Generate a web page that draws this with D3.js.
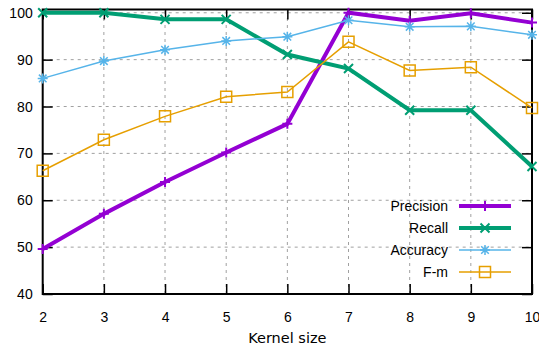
<!DOCTYPE html>
<html>
<head>
<meta charset="utf-8">
<script src="https://cdn.jsdelivr.net/npm/d3@7/dist/d3.min.js"></script>
<style>
  html, body { margin: 0; padding: 0; background: #fff; }
  svg { display: block; font-family: 'Liberation Sans', Arial, sans-serif; }
</style>
</head>
<body>
<svg id="chart"></svg>
<script>
const kernelSizes = [2, 3, 4, 5, 6, 7, 8, 9, 10];
const precision = [49.6, 57.1, 63.9, 70.2, 76.3, 100, 98.3, 99.9, 97.9];
const recall = [100, 100, 98.6, 98.6, 91.1, 88.1, 79.2, 79.2, 67.2];
const accuracy = [86.0, 89.7, 92.1, 94.0, 94.9, 98.4, 97.0, 97.1, 95.3];
const fMeasure = [66.3, 72.9, 77.9, 82.1, 83.1, 93.8, 87.7, 88.4, 79.7];
const yTicks = [40, 50, 60, 70, 80, 90, 100];

const series = [
  { name: 'Precision', values: precision, color: '#9400d3', lw: 4, marker: 'plus' },
  { name: 'Recall', values: recall, color: '#009e73', lw: 4, marker: 'cross' },
  { name: 'Accuracy', values: accuracy, color: '#56b4e9', lw: 1.5, marker: 'star' },
  { name: 'F-m', values: fMeasure, color: '#e69f00', lw: 1.5, marker: 'square' }
];

const width = 539, height = 347;
const svg = d3.select('#chart').attr('width', width).attr('height', height);

const x = d3.scaleLinear().domain([2, 10]).range([42.7, 532]);
const y = d3.scaleLinear().domain([40, 100.7]).range([294, 9.5]);

// grid
const grid = svg.append('g')
  .attr('stroke', '#a0a0a0')
  .attr('stroke-width', 1)
  .attr('stroke-dasharray', '3,4');
grid.selectAll('line.gx')
  .data(kernelSizes.slice(1, -1))
  .join('line')
  .attr('x1', d => x(d)).attr('x2', d => x(d))
  .attr('y1', y.range()[0]).attr('y2', y.range()[1]);
grid.selectAll('line.gy')
  .data(yTicks.slice(1))
  .join('line')
  .attr('y1', d => y(d)).attr('y2', d => y(d))
  .attr('x1', x.range()[0]).attr('x2', x.range()[1]);

// axes (inward ticks, mirrored)
const styleAxis = g => {
  g.select('.domain').remove();
  g.selectAll('line').attr('stroke', '#000').attr('stroke-width', 1.5);
  g.selectAll('text').attr('fill', '#000').style('font-size', '14px');
};

svg.append('g')
  .attr('transform', `translate(0,${y.range()[0]})`)
  .call(d3.axisBottom(x).tickValues(kernelSizes).tickSize(-10).tickPadding(18).tickFormat(d3.format('d')))
  .call(styleAxis);

svg.append('g')
  .attr('transform', `translate(0,${y.range()[1]})`)
  .call(d3.axisTop(x).tickValues(kernelSizes).tickSize(-10).tickFormat(''))
  .call(styleAxis);

svg.append('g')
  .attr('transform', `translate(${x.range()[0]},0)`)
  .call(d3.axisLeft(y).tickValues(yTicks).tickSize(-10).tickPadding(10))
  .call(styleAxis);

svg.append('g')
  .attr('transform', `translate(${x.range()[1]},0)`)
  .call(d3.axisRight(y).tickValues(yTicks).tickSize(-10).tickFormat(''))
  .call(styleAxis);

// frame
svg.append('rect')
  .attr('x', x.range()[0]).attr('y', y.range()[1])
  .attr('width', x.range()[1] - x.range()[0])
  .attr('height', y.range()[0] - y.range()[1])
  .attr('fill', 'none').attr('stroke', '#000').attr('stroke-width', 2);

function markerPath(type) {
  const p = d3.path();
  if (type === 'plus' || type === 'star') {
    const r = 5;
    p.moveTo(-r, 0); p.lineTo(r, 0);
    p.moveTo(0, -r); p.lineTo(0, r);
  }
  if (type === 'cross' || type === 'star') {
    const r = type === 'star' ? 3.8 : 4.5;
    p.moveTo(-r, -r); p.lineTo(r, r);
    p.moveTo(-r, r); p.lineTo(r, -r);
  }
  if (type === 'square') {
    const r = 5.5;
    p.rect(-r, -r, 2 * r, 2 * r);
  }
  return p.toString();
}

const line = d3.line().x(d => x(d[0])).y(d => y(d[1]));

series.forEach(s => {
  const pts = kernelSizes.map((k, i) => [k, s.values[i]]);
  const g = svg.append('g');
  g.append('path')
    .attr('d', line(pts))
    .attr('fill', 'none')
    .attr('stroke', s.color)
    .attr('stroke-width', s.lw)
    .attr('stroke-linejoin', 'miter');
  g.selectAll('path.pt')
    .data(pts)
    .join('path')
    .attr('class', 'pt')
    .attr('transform', d => `translate(${x(d[0])},${y(d[1])})`)
    .attr('d', markerPath(s.marker))
    .attr('fill', 'none')
    .attr('stroke', s.color)
    .attr('stroke-width', s.marker === 'plus' || s.marker === 'cross' ? 2 : 1.5);
});

// legend
const legend = svg.append('g').attr('transform', 'translate(448,206)');
const item = legend.selectAll('g')
  .data(series)
  .join('g')
  .attr('transform', (_, i) => `translate(0,${i * 22})`);

item.append('text')
  .attr('x', 0)
  .attr('y', 5)
  .attr('text-anchor', 'end')
  .style('font-size', '14px')
  .text(d => d.name);

item.append('line')
  .attr('x1', 11).attr('x2', 63)
  .attr('stroke', d => d.color)
  .attr('stroke-width', d => d.lw);

item.append('path')
  .attr('transform', 'translate(37,0)')
  .attr('d', d => markerPath(d.marker))
  .attr('fill', 'none')
  .attr('stroke', d => d.color)
  .attr('stroke-width', d => d.marker === 'plus' || d.marker === 'cross' ? 2 : 1.5);

svg.append('text')
  .attr('x', (x.range()[0] + x.range()[1]) / 2)
  .attr('y', 343)
  .attr('text-anchor', 'middle')
  .style('font-family', "'DejaVu Sans', sans-serif")
  .style('font-size', '14.5px')
  .text('Kernel size');
</script>
</body>
</html>
